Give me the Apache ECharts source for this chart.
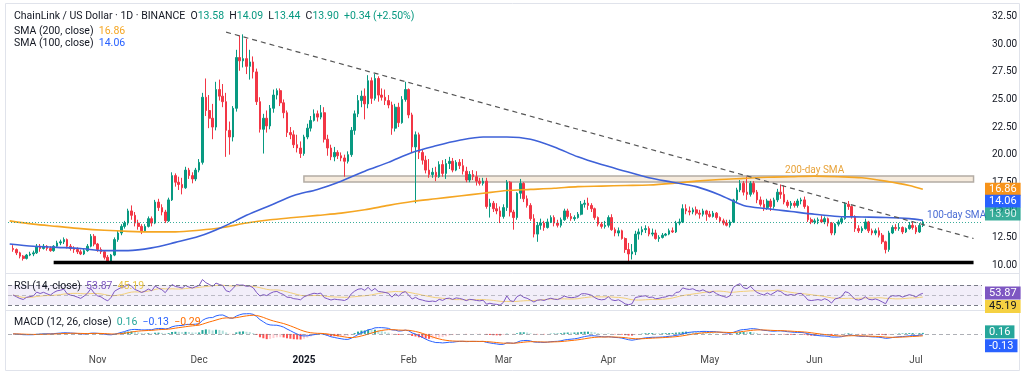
<!DOCTYPE html>
<html>
<head>
<meta charset="utf-8">
<script src="https://cdn.jsdelivr.net/npm/echarts@6/dist/echarts.min.js"></script>
<style>
html, body { margin: 0; padding: 0; background: #fff; }
#chart { width: 1024px; height: 376px; }
</style>
</head>
<body>
<div id="chart"></div>
<script>
// daily candles, each row is [open, high, low, close]
const oct24 = [
    [11.5, 11.8, 11.2, 11.4], [11.4, 11.5, 10.9, 11.1], [11.1, 11.2, 10.6, 10.8], [10.8, 10.9, 10.4, 10.6],
    [10.6, 11.0, 10.5, 10.9], [10.9, 11.2, 10.8, 11.0], [11.0, 11.3, 10.8, 11.1], [11.1, 11.9, 11.0, 11.7],
    [11.7, 11.9, 11.2, 11.5], [11.5, 11.9, 11.4, 11.7], [11.7, 11.8, 11.3, 11.5], [11.5, 11.7, 11.2, 11.3],
    [11.3, 11.8, 11.2, 11.7], [11.7, 12.2, 11.6, 12.0], [12.0, 12.3, 11.8, 12.1], [12.1, 12.5, 11.9, 12.3],
    [12.3, 12.4, 11.5, 11.7], [11.7, 11.9, 11.3, 11.5], [11.5, 11.7, 11.1, 11.4], [11.4, 11.6, 11.0, 11.2],
    [11.2, 11.4, 10.9, 11.0], [11.0, 11.5, 10.9, 11.3], [11.3, 11.9, 11.2, 11.7], [11.7, 12.8, 11.6, 12.6],
    [12.6, 12.8, 11.7, 11.9]
];
const nov24 = [
    [11.9, 12.0, 11.2, 11.4], [11.4, 11.6, 11.0, 11.2], [11.2, 11.3, 10.5, 10.7], [10.7, 10.9, 10.1, 10.3],
    [10.3, 11.0, 10.2, 10.9], [10.9, 12.5, 10.8, 12.3], [12.3, 13.1, 12.1, 12.9], [12.9, 13.7, 12.7, 13.5],
    [13.5, 14.0, 13.3, 13.8], [13.8, 15.1, 13.6, 14.9], [14.9, 15.4, 14.1, 14.5], [14.5, 14.8, 13.5, 13.8],
    [13.8, 14.1, 13.2, 13.5], [13.5, 13.7, 12.8, 13.1], [13.1, 13.7, 13.0, 13.5], [13.5, 14.4, 13.4, 14.2],
    [14.2, 14.4, 13.5, 13.8], [13.8, 15.9, 13.7, 15.7], [15.7, 16.0, 14.9, 15.2], [15.2, 15.5, 14.5, 14.8],
    [14.8, 15.0, 13.8, 14.0], [14.0, 16.1, 13.9, 15.9], [15.9, 18.4, 15.8, 18.1], [18.1, 18.3, 17.1, 17.5],
    [17.5, 18.0, 16.8, 17.3], [17.3, 17.9, 16.4, 17.0], [17.0, 18.9, 16.9, 18.6], [18.6, 18.8, 17.8, 18.1],
    [18.1, 18.4, 17.4, 17.8], [17.8, 18.8, 17.6, 18.6]
];
const dec24 = [
    [18.6, 19.6, 18.4, 19.3], [19.3, 25.6, 19.1, 25.2], [25.2, 26.9, 23.5, 24.0], [24.0, 25.4, 22.4, 23.3],
    [23.3, 24.6, 21.4, 22.5], [22.5, 26.6, 22.2, 25.9], [25.9, 26.8, 24.9, 25.3], [25.3, 26.4, 24.3, 24.8],
    [24.8, 25.6, 19.8, 22.2], [22.2, 23.0, 20.0, 21.6], [21.6, 24.4, 21.2, 24.2], [24.2, 29.5, 23.9, 28.8],
    [28.8, 30.8, 27.6, 28.5], [28.5, 30.9, 27.9, 28.7], [28.7, 30.5, 27.3, 28.0], [28.0, 29.5, 26.8, 28.4],
    [28.4, 28.9, 26.9, 27.5], [27.5, 27.8, 24.5, 24.8], [24.8, 25.2, 22.0, 22.3], [22.3, 23.7, 20.1, 23.3],
    [23.3, 24.0, 22.0, 22.6], [22.6, 24.5, 22.3, 24.2], [24.2, 25.9, 23.8, 25.4], [25.4, 26.0, 25.0, 25.8],
    [25.8, 26.0, 24.4, 24.7], [24.7, 25.0, 23.3, 23.8], [23.8, 24.0, 21.6, 22.0], [22.0, 22.5, 21.4, 21.8],
    [21.8, 22.2, 20.6, 20.9], [20.9, 21.8, 20.2, 20.6], [20.6, 21.2, 19.7, 20.1]
];
const jan25 = [
    [20.1, 21.8, 19.9, 21.6], [21.6, 22.8, 21.4, 22.4], [22.4, 23.5, 22.1, 23.1], [23.1, 24.1, 23.0, 23.7],
    [23.7, 24.0, 23.0, 23.4], [23.4, 24.5, 23.2, 23.8], [23.8, 24.3, 21.1, 21.4], [21.4, 21.8, 19.9, 20.6],
    [20.6, 20.9, 19.5, 19.8], [19.8, 20.7, 19.4, 20.2], [20.2, 20.4, 19.6, 19.9], [19.9, 20.2, 19.4, 19.7],
    [19.7, 20.0, 18.0, 19.4], [19.4, 20.3, 19.2, 20.0], [20.0, 22.5, 19.8, 22.2], [22.2, 24.0, 21.8, 23.7],
    [23.7, 25.4, 23.4, 24.9], [24.9, 25.8, 24.3, 25.3], [25.3, 26.0, 23.2, 24.6], [24.6, 27.2, 24.2, 26.7],
    [26.7, 27.0, 24.6, 25.1], [25.1, 27.3, 24.9, 26.9], [26.9, 27.1, 24.8, 25.4], [25.4, 26.0, 24.9, 25.2],
    [25.2, 25.9, 24.5, 24.9], [24.9, 25.4, 24.2, 24.5], [24.5, 24.8, 21.8, 22.4], [22.4, 24.6, 22.1, 24.3],
    [24.3, 24.7, 22.5, 22.9], [22.9, 25.3, 22.8, 25.0], [25.0, 26.6, 24.8, 25.9]
];
const feb25 = [
    [25.9, 26.0, 23.3, 23.6], [23.6, 23.8, 20.2, 20.7], [20.7, 22.1, 15.6, 21.8], [21.8, 22.0, 19.6, 20.2],
    [20.2, 20.5, 19.1, 19.5], [19.5, 19.9, 18.3, 18.6], [18.6, 19.6, 17.9, 18.2], [18.2, 18.8, 17.9, 18.4],
    [18.4, 18.9, 17.6, 18.0], [18.0, 19.4, 17.9, 19.1], [19.1, 19.5, 18.0, 18.3], [18.3, 19.6, 17.8, 19.2],
    [19.2, 19.8, 18.7, 19.4], [19.4, 19.7, 18.4, 18.6], [18.6, 19.5, 18.5, 19.3], [19.3, 19.6, 18.7, 19.0],
    [19.0, 19.6, 18.2, 18.5], [18.5, 18.9, 17.5, 17.7], [17.7, 18.5, 17.5, 18.2], [18.2, 18.6, 17.7, 18.0],
    [18.0, 18.5, 17.2, 17.6], [17.6, 17.9, 17.2, 17.4], [17.4, 17.9, 17.2, 17.6], [17.6, 17.9, 15.1, 15.3],
    [15.3, 16.0, 14.3, 15.6], [15.6, 15.8, 14.8, 15.1], [15.1, 15.6, 14.6, 14.9], [14.9, 15.3, 13.8, 14.4]
];
const mar25 = [
    [14.4, 15.5, 14.2, 15.2], [15.2, 17.7, 14.9, 17.5], [17.5, 17.6, 14.4, 14.8], [14.8, 15.0, 13.2, 14.3],
    [14.3, 16.6, 14.1, 16.5], [16.5, 17.8, 16.0, 17.4], [17.4, 17.5, 15.7, 16.0], [16.0, 16.3, 15.2, 15.4],
    [15.4, 15.6, 14.0, 14.2], [14.2, 14.6, 12.5, 12.8], [12.8, 13.9, 12.1, 13.6], [13.6, 14.2, 13.2, 13.8],
    [13.8, 14.0, 13.1, 13.4], [13.4, 14.2, 13.3, 13.9], [13.9, 14.5, 13.8, 14.3], [14.3, 14.5, 13.5, 13.8],
    [13.8, 14.1, 13.4, 13.6], [13.6, 14.3, 13.4, 14.1], [14.1, 15.1, 14.0, 14.9], [14.9, 15.1, 14.2, 14.4],
    [14.4, 14.7, 14.0, 14.2], [14.2, 14.5, 14.0, 14.3], [14.3, 14.8, 14.2, 14.6], [14.6, 15.8, 14.5, 15.5],
    [15.5, 15.9, 15.2, 15.6], [15.6, 16.1, 15.0, 15.4], [15.4, 15.6, 14.8, 15.1], [15.1, 15.2, 14.1, 14.3],
    [14.3, 14.4, 13.5, 13.7], [13.7, 13.9, 13.3, 13.5], [13.5, 14.0, 13.3, 13.6]
];
const apr25 = [
    [13.6, 14.5, 13.4, 14.3], [14.3, 14.6, 13.1, 13.2], [13.2, 13.4, 12.6, 12.9], [12.9, 13.4, 12.6, 13.1],
    [13.1, 13.2, 12.3, 12.4], [12.4, 12.5, 11.1, 11.4], [11.4, 12.0, 10.3, 11.0], [11.0, 11.9, 10.5, 11.2],
    [11.2, 13.1, 10.9, 12.8], [12.8, 13.3, 12.3, 13.0], [13.0, 13.5, 12.7, 13.2], [13.2, 13.6, 12.9, 13.3],
    [13.3, 13.5, 12.6, 12.8], [12.8, 13.3, 12.6, 12.9], [12.9, 13.2, 12.3, 12.4], [12.4, 12.7, 12.1, 12.5],
    [12.5, 12.9, 12.4, 12.7], [12.7, 12.9, 12.6, 12.8], [12.8, 13.3, 12.7, 13.1], [13.1, 13.4, 12.9, 13.0],
    [13.0, 14.0, 12.9, 13.8], [13.8, 14.2, 13.6, 13.9], [13.9, 15.5, 13.8, 15.1], [15.1, 15.5, 14.6, 14.9],
    [14.9, 15.3, 14.5, 14.8], [14.8, 15.2, 14.6, 15.0], [15.0, 15.3, 14.5, 14.7], [14.7, 15.0, 14.2, 14.6],
    [14.6, 15.1, 14.4, 14.9], [14.9, 15.0, 14.0, 14.6]
];
const may25 = [
    [14.6, 14.9, 14.3, 14.4], [14.4, 14.9, 14.3, 14.7], [14.7, 14.8, 14.1, 14.3], [14.3, 14.4, 13.8, 14.0],
    [14.0, 14.2, 13.6, 13.8], [13.8, 14.1, 13.5, 13.6], [13.6, 14.1, 13.4, 13.9], [13.9, 16.0, 13.8, 15.9],
    [15.9, 17.0, 15.6, 16.8], [16.8, 17.7, 16.6, 17.4], [17.4, 17.6, 16.3, 16.6], [16.6, 18.0, 15.9, 16.4],
    [16.4, 17.6, 16.2, 17.4], [17.4, 17.6, 16.4, 16.6], [16.6, 16.8, 15.6, 15.9], [15.9, 16.2, 15.3, 15.5],
    [15.5, 15.9, 14.9, 15.2], [15.2, 16.0, 15.0, 15.8], [15.8, 16.0, 14.9, 15.3], [15.3, 16.1, 15.1, 15.9],
    [15.9, 16.9, 15.7, 16.6], [16.6, 17.3, 16.0, 16.4], [16.4, 17.2, 15.5, 15.7], [15.7, 15.9, 15.2, 15.4],
    [15.4, 15.8, 15.1, 15.6], [15.6, 15.8, 15.2, 15.4], [15.4, 16.0, 15.2, 15.8], [15.8, 16.1, 15.5, 15.9],
    [15.9, 16.2, 15.1, 15.3], [15.3, 15.4, 13.9, 14.1], [14.1, 14.3, 13.7, 13.9]
];
const jun25 = [
    [13.9, 14.2, 13.7, 14.0], [14.0, 14.3, 13.7, 14.1], [14.1, 14.5, 13.8, 13.9], [13.9, 14.4, 13.7, 14.2],
    [14.2, 14.3, 13.5, 13.8], [13.8, 13.9, 12.7, 12.9], [12.9, 13.8, 12.7, 13.7], [13.7, 14.1, 13.5, 13.9],
    [13.9, 14.4, 13.7, 14.2], [14.2, 15.7, 14.1, 15.5], [15.5, 15.8, 15.0, 15.3], [15.3, 15.4, 14.2, 14.4],
    [14.4, 14.5, 13.0, 13.3], [13.3, 13.6, 12.9, 13.1], [13.1, 13.5, 12.9, 13.3], [13.3, 14.2, 13.2, 13.9],
    [13.9, 14.0, 12.9, 13.1], [13.1, 13.3, 12.7, 12.9], [12.9, 13.3, 12.7, 13.1], [13.1, 13.4, 12.5, 12.7],
    [12.7, 12.9, 11.9, 12.1], [12.1, 12.2, 11.05, 11.4], [11.4, 13.1, 11.2, 12.9], [12.9, 13.6, 12.8, 13.4],
    [13.4, 13.7, 13.1, 13.3], [13.3, 13.8, 13.1, 13.4], [13.4, 13.5, 12.8, 13.0], [13.0, 13.4, 12.9, 13.3],
    [13.3, 13.9, 13.2, 13.6], [13.6, 13.9, 13.2, 13.4]
];
const jul25 = [
    [13.4, 13.6, 12.8, 13.0], [13.0, 13.8, 12.9, 13.58], [13.58, 14.09, 13.44, 13.90]
];

// moving averages, weekly
const sma200Pts = [
    ['2024-10-06', 14.0], ['2024-10-13', 13.7], ['2024-10-20', 13.5], ['2024-10-27', 13.3],
    ['2024-11-03', 13.15], ['2024-11-10', 13.05], ['2024-11-17', 13.0], ['2024-11-24', 13.0],
    ['2024-12-01', 13.15], ['2024-12-08', 13.4], ['2024-12-15', 13.8], ['2024-12-22', 14.1],
    ['2024-12-29', 14.3], ['2025-01-05', 14.5], ['2025-01-12', 14.7], ['2025-01-19', 15.0],
    ['2025-01-26', 15.4], ['2025-02-02', 15.75], ['2025-02-09', 16.0], ['2025-02-16', 16.25],
    ['2025-02-23', 16.5], ['2025-03-02', 16.75], ['2025-03-09', 16.85], ['2025-03-16', 16.95],
    ['2025-03-23', 17.1], ['2025-03-30', 17.15], ['2025-04-06', 17.2], ['2025-04-13', 17.25],
    ['2025-04-20', 17.4], ['2025-04-27', 17.6], ['2025-05-04', 17.75], ['2025-05-11', 17.85],
    ['2025-05-18', 17.95], ['2025-05-25', 18.0], ['2025-06-01', 18.05], ['2025-06-08', 18.0],
    ['2025-06-15', 17.9], ['2025-06-22', 17.6], ['2025-06-29', 17.2], ['2025-07-03', 16.86]
];
const sma100Pts = [
    ['2024-10-06', 11.9], ['2024-10-13', 11.7], ['2024-10-20', 11.6], ['2024-10-27', 11.5],
    ['2024-11-03', 11.3], ['2024-11-10', 11.3], ['2024-11-17', 11.55], ['2024-11-24', 12.05],
    ['2024-12-01', 12.6], ['2024-12-08', 13.45], ['2024-12-15', 14.5], ['2024-12-22', 15.4],
    ['2024-12-29', 16.3], ['2025-01-05', 16.85], ['2025-01-12', 17.6], ['2025-01-19', 18.5],
    ['2025-01-26', 19.3], ['2025-02-02', 20.2], ['2025-02-09', 20.8], ['2025-02-16', 21.3],
    ['2025-02-23', 21.6], ['2025-03-02', 21.6], ['2025-03-09', 21.4], ['2025-03-16', 20.7],
    ['2025-03-23', 19.8], ['2025-03-30', 19.1], ['2025-04-06', 18.5], ['2025-04-13', 17.9],
    ['2025-04-20', 17.5], ['2025-04-27', 17.1], ['2025-05-04', 16.35], ['2025-05-11', 15.4],
    ['2025-05-18', 15.1], ['2025-05-25', 14.85], ['2025-06-01', 14.6], ['2025-06-08', 14.4],
    ['2025-06-15', 14.35], ['2025-06-22', 14.3], ['2025-06-29', 14.2], ['2025-07-03', 14.06]
];

// drawn lines
const trendPts = [['2024-12-09', 31.1], ['2025-07-18', 12.4]];
const supportPts = [['2024-10-19', 10.23], ['2025-07-18', 10.23]];
const zone = { from: '2025-01-01', to: '2025-07-18', top: 18.07, bottom: 17.52 };

// values shown in legend / price tags
const lastClose = 13.90, lastSma200 = 16.86, lastSma100 = 14.06;
const lastRsi = 53.87, lastRsiMa = 45.19;
const lastHist = 0.16, lastMacd = -0.13, lastSignal = -0.29;
const monthNames = ['Jan', 'Feb', 'Mar', 'Apr', 'May', 'Jun', 'Jul', 'Aug', 'Sep', 'Oct', 'Nov', 'Dec'];

const UP = '#089981', DOWN = '#F23645';
const FONT = 'Roboto, "Noto Sans", sans-serif';

// day by day categories, a couple of empty weeks on the right
const dates = [];
for (let t = Date.UTC(2024, 9, 6); t <= Date.UTC(2025, 6, 20); t += 864e5) {
    dates.push(new Date(t).toISOString().slice(0, 10));
}
const candles = [].concat(oct24, nov24, dec24, jan25, feb25, mar25, apr25, may25, jun25, jul25);
const closes = candles.map(r => r[3]);

function ema(src, n) {
    const k = 2 / (n + 1);
    const out = [];
    src.forEach((v, i) => out.push(i ? v * k + out[i - 1] * (1 - k) : v));
    return out;
}
function rsiOf(src, n) {
    let up = 0.15, dn = 0.15;
    const out = [50];
    for (let i = 1; i < src.length; i++) {
        const ch = src[i] - src[i - 1];
        up = (up * (n - 1) + Math.max(ch, 0)) / n;
        dn = (dn * (n - 1) + Math.max(-ch, 0)) / n;
        out.push(100 - 100 / (1 + up / dn));
    }
    return out;
}
function smaOf(src, n) {
    return src.map((v, i) => {
        const part = src.slice(Math.max(0, i - n + 1), i + 1);
        return part.reduce((a, b) => a + b, 0) / part.length;
    });
}

const rsi = rsiOf(closes, 14);
const rsiMa = smaOf(rsi, 14);
const ema12 = ema(closes, 12), ema26 = ema(closes, 26);
const macd = ema12.map((v, i) => v - ema26[i]);
const signal = ema(macd, 9);
const hist = macd.map((v, i) => v - signal[i]);

// candle i sits on category i + 1 (first category is empty)
const pad = arr => ['-'].concat(arr);
const candleData = pad(candles.map(r => [r[0], r[3], r[2], r[1]]));
const histData = pad(hist.map((v, i) => {
    const prev = i ? hist[i - 1] : v;
    let c;
    if (v >= 0) c = v >= prev ? '#26A69A' : '#B2DFDB';
    else c = v <= prev ? '#FF5252' : '#FFCDD2';
    return { value: +v.toFixed(4), itemStyle: { color: c } };
}));

// price tag on the right edge of a pane
function tag(value, bg, dy, fg) {
    return {
        yAxis: value,
        lineStyle: { width: 0, color: 'transparent' },
        label: {
            show: true, position: 'end', distance: 3, offset: [0, dy || 0],
            formatter: value.toFixed(2), backgroundColor: bg, color: fg || '#fff',
            padding: [1, 4, 0, 4], fontSize: 11, lineHeight: 12, fontFamily: FONT
        }
    };
}

const chart = echarts.init(document.getElementById('chart'), null, { renderer: 'canvas' });
const gridBase = { left: 8, right: 42 };
const txt = (color, size) => ({ color: color, fontSize: size || 10.5, fontWeight: 'normal', fontFamily: FONT });
const legendStyle = rich => ({ fontSize: 10.5, fontWeight: 'normal', color: '#131722', fontFamily: FONT, rich: rich });

const option = {
    animation: false,
    backgroundColor: '#fff',
    textStyle: { fontFamily: FONT },
    title: [
        {
            left: 14, top: 11, padding: 0,
            text: '{n|ChainLink / US Dollar · 1D · BINANCE}  {n|O}{g|13.58}  {n|H}{g|14.09}  {n|L}{g|13.44}  {n|C}{g|13.90}  {g|+0.34 (+2.50%)}',
            textStyle: legendStyle({ n: txt('#131722'), g: txt(UP) })
        },
        {
            left: 14, top: 26, padding: 0,
            text: '{n|SMA (200, close)}  {o|16.86}',
            textStyle: legendStyle({ n: txt('#131722'), o: txt('#F5A623') })
        },
        {
            left: 14, top: 38, padding: 0,
            text: '{n|SMA (100, close)}  {b|14.06}',
            textStyle: legendStyle({ n: txt('#131722'), b: txt('#2962FF') })
        },
        {
            left: 14, top: 281, padding: 0,
            text: '{n|RSI (14, close)}  {p|53.87}  {y|45.19}',
            textStyle: legendStyle({ n: txt('#131722'), p: txt('#7E57C2'), y: txt('#E8C547') })
        },
        {
            left: 14, top: 317, padding: 0,
            text: '{n|MACD (12, 26, close)}  {t|0.16}  {b|\u22120.13}  {o|\u22120.29}',
            textStyle: legendStyle({ n: txt('#131722'), t: txt('#26A69A'), b: txt('#2962FF'), o: txt('#FF6D00') })
        }
    ],
    grid: [
        Object.assign({ top: 16.7, height: 248.3 }, gridBase),
        Object.assign({ top: 274, height: 36 }, gridBase),
        Object.assign({ top: 311, height: 36 }, gridBase)
    ],
    xAxis: [0, 1, 2].map(i => ({
        type: 'category', gridIndex: i, data: dates, boundaryGap: true,
        axisLine: { show: false }, axisTick: { show: false }, splitLine: { show: false },
        axisLabel: i < 2 ? { show: false } : {
            interval: (idx, v) => v.slice(8) === '01',
            margin: 8, color: '#4a4a4a', fontSize: 10, fontFamily: FONT,
            formatter: v => {
                const m = +v.slice(5, 7);
                return m === 1 ? '{y|' + v.slice(0, 4) + '}' : monthNames[m - 1];
            },
            rich: { y: { fontWeight: 'bold', color: '#131722', fontSize: 10, fontFamily: FONT } }
        }
    })),
    yAxis: [
        {
            gridIndex: 0, position: 'right', min: 10, max: 32.5, interval: 2.5,
            axisLine: { show: false }, axisTick: { show: false }, splitLine: { show: false },
            axisLabel: { margin: 10, color: '#131722', fontSize: 10, fontFamily: FONT, formatter: v => v.toFixed(2) }
        },
        { gridIndex: 1, min: 20, max: 92, show: false },
        { gridIndex: 2, min: -2.0, max: 3.5, show: false }
    ],
    series: [
        {
            type: 'candlestick', name: 'LINKUSD', xAxisIndex: 0, yAxisIndex: 0,
            data: candleData, barWidth: '62%',
            itemStyle: { color: UP, color0: DOWN, borderColor: UP, borderColor0: DOWN, borderWidth: 1 },
            markLine: {
                silent: true, symbol: 'none', animation: false, z: 10,
                data: [Object.assign(tag(lastClose, UP, -8), { lineStyle: { color: UP, type: [1, 2], width: 1, opacity: 0.8 } })]
            },
            markArea: {
                silent: true,
                itemStyle: { color: 'rgba(243,228,210,0.75)', borderColor: '#b3aca4', borderWidth: 1.5 },
                data: [[{ xAxis: zone.from, yAxis: zone.top }, { xAxis: zone.to, yAxis: zone.bottom }]]
            },
            z: 3
        },
        {
            type: 'line', name: 'SMA 200', data: sma200Pts, smooth: 0.3, symbol: 'none',
            lineStyle: { color: '#F5A623', width: 1.6 }, z: 4,
            markLine: { silent: true, symbol: 'none', data: [tag(lastSma200, '#F7931A')] },
            markPoint: {
                symbol: 'circle', symbolSize: 0, silent: true,
                data: [{ coord: ['2025-06-01', 18.6], label: { show: true, formatter: '200-day SMA', color: '#E8A33A', fontSize: 10, fontFamily: FONT } }]
            }
        },
        {
            type: 'line', name: 'SMA 100', data: sma100Pts, smooth: 0.3, symbol: 'none',
            lineStyle: { color: '#3E61D8', width: 1.6 }, z: 4,
            markLine: { silent: true, symbol: 'none', data: [tag(lastSma100, '#2962FF', -19)] },
            markPoint: {
                symbol: 'circle', symbolSize: 0, silent: true,
                data: [{ coord: ['2025-07-13', 14.5], label: { show: true, formatter: '100-day SMA', color: '#4A6CD4', fontSize: 10, fontFamily: FONT } }]
            }
        },
        {
            type: 'line', name: 'trend', data: trendPts, symbol: 'none',
            lineStyle: { color: '#555', width: 1.2, type: [5, 4] }, z: 5
        },
        {
            type: 'line', name: 'support', data: supportPts, symbol: 'none',
            lineStyle: { color: '#000', width: 3.5 }, z: 5
        },
        {
            type: 'line', name: 'RSI', xAxisIndex: 1, yAxisIndex: 1, data: pad(rsi.map(v => +v.toFixed(2))),
            symbol: 'none', lineStyle: { color: '#7E57C2', width: 1 }, z: 4,
            markArea: { silent: true, itemStyle: { color: 'rgba(126,87,194,0.1)' }, data: [[{ yAxis: 30 }, { yAxis: 70 }]] },
            markLine: {
                silent: true, symbol: 'none',
                data: [
                    { yAxis: 70, lineStyle: { color: '#787B86', type: [4, 3], width: 1 }, label: { show: false } },
                    { yAxis: 50, lineStyle: { color: 'rgba(120,123,134,0.45)', type: [4, 3], width: 1 }, label: { show: false } },
                    { yAxis: 30, lineStyle: { color: '#787B86', type: [4, 3], width: 1 }, label: { show: false } },
                    tag(lastRsi, '#7E57C2')
                ]
            }
        },
        {
            type: 'line', name: 'RSI MA', xAxisIndex: 1, yAxisIndex: 1, data: pad(rsiMa.map(v => +v.toFixed(2))),
            symbol: 'none', lineStyle: { color: '#F2D07A', width: 1 }, z: 3,
            markLine: { silent: true, symbol: 'none', data: [tag(lastRsiMa, '#F5D142', 9, '#131722')] }
        },
        {
            type: 'bar', name: 'Histogram', xAxisIndex: 2, yAxisIndex: 2, data: histData, barWidth: '60%',
            markLine: {
                silent: true, symbol: 'none',
                data: [
                    { yAxis: 0, lineStyle: { color: 'rgba(120,123,134,0.6)', type: [4, 3], width: 1 }, label: { show: false } },
                    tag(lastHist, '#26A69A', -1)
                ]
            }
        },
        {
            type: 'line', name: 'MACD', xAxisIndex: 2, yAxisIndex: 2, data: pad(macd.map(v => +v.toFixed(4))),
            symbol: 'none', lineStyle: { color: '#2962FF', width: 1 },
            markLine: { silent: true, symbol: 'none', data: [tag(lastMacd, '#2962FF', 11)] }
        },
        {
            type: 'line', name: 'Signal', xAxisIndex: 2, yAxisIndex: 2, data: pad(signal.map(v => +v.toFixed(4))),
            symbol: 'none', lineStyle: { color: '#FF6D00', width: 1 }
        }
    ],
    graphic: [
        { type: 'rect', shape: { x: 5.5, y: 3.5, width: 1014, height: 367 }, style: { fill: 'none', stroke: '#e0e3eb', lineWidth: 1 }, silent: true },
        { type: 'line', shape: { x1: 6, y1: 273.5, x2: 1019, y2: 273.5 }, style: { stroke: '#e0e3eb', lineWidth: 1 }, silent: true },
        { type: 'line', shape: { x1: 6, y1: 310.5, x2: 1019, y2: 310.5 }, style: { stroke: '#e0e3eb', lineWidth: 1 }, silent: true }
    ]
};

chart.setOption(option);
</script>
</body>
</html>
